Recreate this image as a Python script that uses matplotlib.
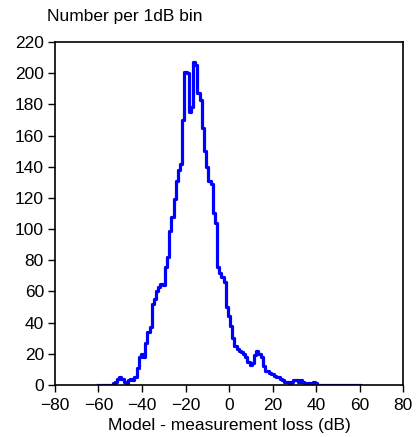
import matplotlib
matplotlib.use("Agg")
import matplotlib.pyplot as plt
import numpy as np

# Data: bin centres (dB) and counts per 1 dB bin
bins_db = list(range(-60, 61))
counts = [
    0, 0, 0, 0, 0, 0, 0, 1, 2, 4,          # -60..-51
    5, 4, 2, 1, 3, 4, 3, 5, 11, 18,        # -50..-41
    20, 18, 27, 34, 37, 52, 55, 60, 63, 65,  # -40..-31
    64, 76, 82, 99, 108, 119, 131, 138, 142, 170,  # -30..-21
    201, 200, 175, 178, 207, 205, 187, 183, 165, 150,  # -20..-11
    140, 131, 129, 110, 104, 76, 72, 69, 66, 50,  # -10..-1
    44, 38, 30, 25, 23, 22, 21, 20, 18, 15,  # 0..9
    13, 14, 19, 22, 20, 18, 12, 9, 9, 8,    # 10..19
    7, 6, 5, 5, 4, 3, 2, 2, 1, 2,           # 20..29
    3, 3, 2, 3, 2, 1, 1, 1, 1, 2,           # 30..39
    1, 0, 0, 0, 0, 0, 0, 0, 0, 0,           # 40..49
    0, 0, 0, 0, 0, 0, 0, 0, 0, 0, 0,        # 50..60
]
xticks = [-80, -60, -40, -20, 0, 20, 40, 60, 80]
yticks = list(range(0, 221, 20))

plt.rcParams['font.family'] = ['Liberation Sans', 'DejaVu Sans']
fig = plt.figure(figsize=(4.16, 4.37), dpi=100)
ax = fig.add_axes([55/416, 52/437, 348/416, 343/437])
ax.plot(bins_db, counts, drawstyle='steps-mid', color='#0000ff', lw=2.3)
ax.set_xlim(-80, 80)
ax.set_ylim(0, 220)
ax.set_xticks(xticks)
ax.set_yticks(yticks)
ax.tick_params(direction='out', length=5, width=1, labelsize=12.5, colors='black')
ax.tick_params(axis='x', pad=4)
ax.tick_params(axis='y', pad=3)
for s in ax.spines.values():
    s.set_linewidth(1.2)
ax.set_xlabel('Model - measurement loss (dB)', fontsize=12.5, labelpad=4)
fig.text(47/416, 1 - 17/437, 'Number per 1dB bin', fontsize=12.5, ha='left', va='center')
fig.savefig('out.png', dpi=100)
